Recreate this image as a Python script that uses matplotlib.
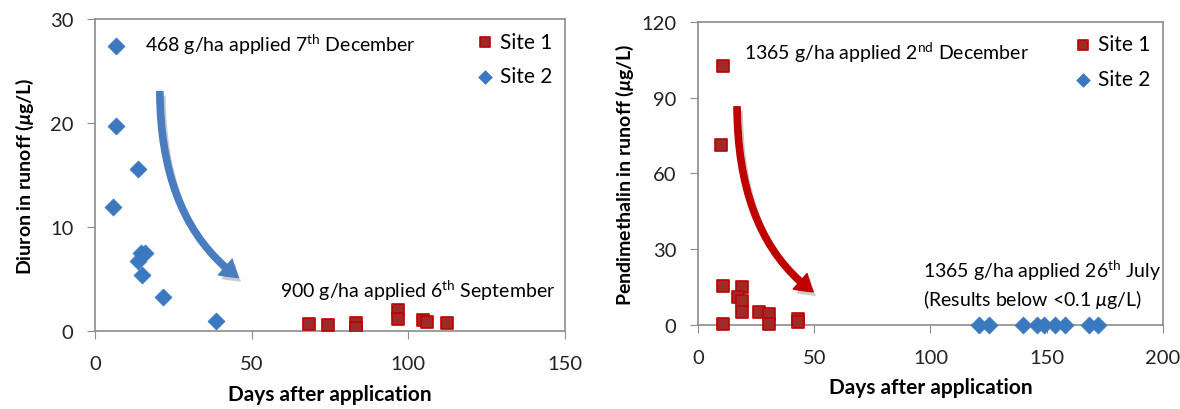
import matplotlib
matplotlib.use("Agg")
import matplotlib.pyplot as plt
import matplotlib.patheffects as pe
from matplotlib.patches import FancyArrowPatch

plt.rcParams['font.family'] = ['Lato', 'DejaVu Sans']
plt.rcParams['mathtext.fontset'] = 'custom'
plt.rcParams['mathtext.rm'] = 'Lato'
plt.rcParams['mathtext.it'] = 'Lato:italic'
plt.rcParams['mathtext.bf'] = 'Lato:bold'
plt.rcParams['mathtext.bfit'] = 'Lato:bold:italic'

# Diuron (left panel)
diuron_s1_days = [68.5, 74.5, 83.3, 83.3, 96.7, 96.7, 104.7, 106, 112.4]
diuron_s1_conc = [0.7, 0.6, 0.8, 0.3, 2.0, 1.2, 1.1, 0.9, 0.8]
diuron_s2_days = [6.7, 6.7, 13.7, 5.7, 16, 14.7, 13.7, 15, 21.7, 38.6]
diuron_s2_conc = [27.4, 19.7, 15.6, 11.9, 7.5, 7.5, 6.7, 5.4, 3.3, 1.0]

# Pendimethalin (right panel)
pendi_s1_days = [10.8, 10.1, 10.8, 10.8, 19, 17.1, 19, 19, 26.4, 30.5, 30.5, 42.9, 42.9]
pendi_s1_conc = [102.5, 71.1, 15.5, 0.4, 14.9, 10.9, 9.6, 5.0, 5.0, 4.3, 0.4, 2.5, 1.3]
pendi_s2_days = [121, 125, 140, 146, 149, 153.5, 158, 168, 172]
pendi_s2_conc = [0.05] * 9

red_face = '#9e2a2a'
red_edge = '#c00000'
blue = '#3a78c0'
spine_col = '#8c8c8c'

fig = plt.figure(figsize=(11.8, 4.1), dpi=100)
ax1 = fig.add_axes([0.0805, 0.19, 0.398, 0.761])
ax2 = fig.add_axes([0.5915, 0.205, 0.394, 0.739])

arrow_style = 'simple,head_length=12,head_width=15,tail_width=4.5'
shadow = [pe.SimplePatchShadow(offset=(2, -3), shadow_rgbFace='#555555', alpha=0.3),
          pe.Normal()]


def style(ax):
    for s in ax.spines.values():
        s.set_color(spine_col)
        s.set_linewidth(1.2)
    ax.tick_params(direction='out', length=5.5, color=spine_col, labelsize=14.5,
                   pad=10, labelcolor='#222222')
    ax.tick_params(axis='x', pad=12)


# left
ax1.scatter(diuron_s1_days, diuron_s1_conc, marker='s', s=70, facecolor=red_face,
            edgecolor=red_edge, linewidth=1.2, label='Site 1', zorder=3)
ax1.scatter(diuron_s2_days, diuron_s2_conc, marker='D', s=75, facecolor=blue,
            edgecolor=blue, linewidth=0.5, label='Site 2', zorder=3)
ax1.set_xlim(0, 150)
ax1.set_ylim(0, 30)
ax1.set_xticks([0, 50, 100, 150])
ax1.set_yticks([0, 10, 20, 30])
style(ax1)
ax1.set_xlabel('Days after application', fontsize=15, fontweight='bold', labelpad=8)
ax1.set_ylabel(r'Diuron in runoff ($\mathbfit{\mu}$g/L)', fontsize=14, fontweight='bold',
               labelpad=10)
ax1.text(16, 27.6, r'468 g/ha applied 7$^{\rm th}$ December', fontsize=14, va='center')
ax1.text(147, 4.0, r'900 g/ha applied 6$^{\rm th}$ September', fontsize=14,
         va='center', ha='right')
ax1.add_patch(FancyArrowPatch((20.7, 23.3), (46.5, 5.0),
                              connectionstyle='angle3,angleA=-90,angleB=-35',
                              arrowstyle=arrow_style, color='#4a7dbf', zorder=2,
                              path_effects=shadow))
ax1.legend(loc='upper right', frameon=False, fontsize=15, markerscale=0.8,
           handletextpad=0.1, labelspacing=0.7, borderaxespad=0.2, handlelength=1.2)

# right
ax2.scatter(pendi_s1_days, pendi_s1_conc, marker='s', s=70, facecolor=red_face,
            edgecolor=red_edge, linewidth=1.2, label='Site 1', zorder=3, clip_on=False)
ax2.scatter(pendi_s2_days, pendi_s2_conc, marker='D', s=75, facecolor=blue,
            edgecolor=blue, linewidth=0.5, label='Site 2', zorder=3, clip_on=False)
ax2.set_xlim(0, 200)
ax2.set_ylim(0, 120)
ax2.set_xticks([0, 50, 100, 150, 200])
ax2.set_yticks([0, 30, 60, 90, 120])
style(ax2)
ax2.set_xlabel('Days after application', fontsize=15, fontweight='bold', labelpad=8)
ax2.set_ylabel(r'Pendimethalin in runoff ($\mathbfit{\mu}$g/L)', fontsize=14,
               fontweight='bold', labelpad=4)
ax2.text(20, 108, r'1365 g/ha applied 2$^{\rm nd}$ December', fontsize=14, va='center')
ax2.text(97, 22, r'1365 g/ha applied 26$^{\rm th}$ July', fontsize=14, va='center')
ax2.text(97, 10.5, r'(Results below <0.1 $\mu$g/L)', fontsize=14, va='center')
ax2.add_patch(FancyArrowPatch((16.8, 87.5), (50.5, 12.5),
                              connectionstyle='angle3,angleA=-90,angleB=-35',
                              arrowstyle=arrow_style, color='#c00000', zorder=2,
                              path_effects=shadow))
ax2.legend(loc='upper right', frameon=False, fontsize=15, markerscale=0.8,
           handletextpad=0.1, labelspacing=0.7, borderaxespad=0.2, handlelength=1.2)

fig.savefig('out.png', dpi=100)
